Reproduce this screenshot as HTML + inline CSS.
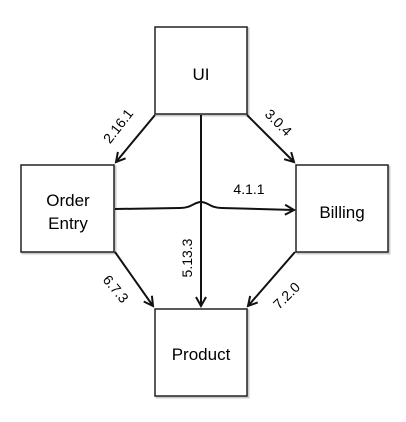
<!DOCTYPE html>
<html><head><style>
html,body{margin:0;padding:0;background:#fff;}
svg{display:block;}
text{font-family:"Liberation Sans",sans-serif;fill:#000;}
</style></head><body>
<svg width="406" height="422" viewBox="0 0 406 422" xmlns="http://www.w3.org/2000/svg">
<defs>
<marker id="a" markerWidth="12" markerHeight="12" refX="10" refY="6" orient="auto" markerUnits="userSpaceOnUse">
<path d="M1,1 L10,6 L1,11" fill="none" stroke="#111" stroke-width="2"/>
</marker>
</defs>
<g fill="#fff" stroke="#aaa" stroke-width="2" opacity="0.6">
<rect x="156.5" y="28.5" width="92" height="87"/>
<rect x="22.5" y="166.5" width="93" height="87"/>
<rect x="297.5" y="166.5" width="92" height="87"/>
<rect x="156.5" y="310.5" width="92" height="87"/>
</g>
<g fill="#fff" stroke="#222" stroke-width="1.5">
<rect x="155" y="27" width="92" height="87"/>
<rect x="21" y="165" width="93" height="87"/>
<rect x="296" y="165" width="92" height="87"/>
<rect x="155" y="309" width="92" height="87"/>
</g>
<g stroke="#111" stroke-width="2" fill="none">
<line x1="155" y1="115" x2="116" y2="162" marker-end="url(#a)"/>
<line x1="247" y1="115" x2="294" y2="162" marker-end="url(#a)"/>
<line x1="201" y1="115" x2="201" y2="306" marker-end="url(#a)"/>
<path d="M115,209 L180,208 C192,208 194,202 201,202 C208,202 210,208 222,208 L294,210" marker-end="url(#a)"/>
<line x1="115" y1="252" x2="153" y2="306" marker-end="url(#a)"/>
<line x1="295" y1="252" x2="248" y2="306" marker-end="url(#a)"/>
</g>
<g font-size="17" text-anchor="middle">
<text x="201" y="80">UI</text>
<text x="68" y="206">Order</text>
<text x="68" y="229">Entry</text>
<text x="342" y="218">Billing</text>
<text x="201" y="360">Product</text>
</g>
<g font-size="14" text-anchor="middle">
<text transform="translate(122,129) rotate(-52)">2.16.1</text>
<text transform="translate(275,126) rotate(45)">3.0.4</text>
<text x="249" y="194">4.1.1</text>
<text transform="translate(192,258) rotate(-90)">5.13.3</text>
<text transform="translate(112,292) rotate(50)">6.7.3</text>
<text transform="translate(290,299) rotate(-45)">7.2.0</text>
</g>
</svg>
</body></html>
